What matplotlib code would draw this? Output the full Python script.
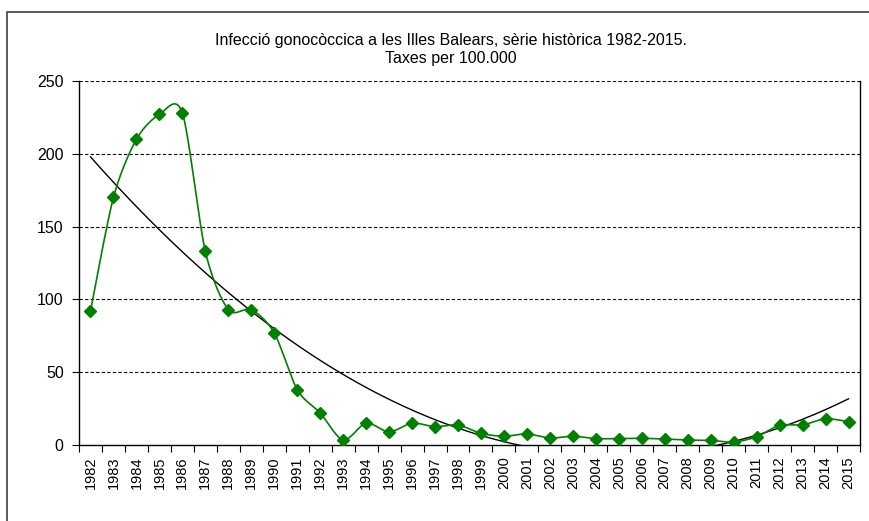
import numpy as np
import matplotlib
matplotlib.use("Agg")
import matplotlib.pyplot as plt
from matplotlib.patches import Rectangle

plt.rcParams['font.family'] = ['Liberation Sans', 'DejaVu Sans']

# Dades: taxes per 100.000 habitants
anys = list(range(1982, 2016))
taxes = [92, 170, 210, 227, 228, 133, 93, 93, 77, 38, 22, 3.4, 15, 9, 15, 12.6,
         13.7, 8, 6, 7.6, 4.8, 6, 4.4, 4.4, 4.6, 4.1, 3.4, 3.2, 2, 5.7, 13.5,
         13.8, 18, 16]
y_ticks = [0, 50, 100, 150, 200, 250]
titol = "Infecció gonocòccica a les Illes Balears, sèrie històrica 1982-2015.\nTaxes per 100.000"

x = np.arange(len(anys))
y = np.array(taxes, dtype=float)


# corba suavitzada tipus Excel (Bezier amb punts de control)
def suavitza(x, y, n=30, k=1 / 7):
    px = np.concatenate([[x[0]], x, [x[-1]]])
    py = np.concatenate([[y[0]], y, [y[-1]]])
    xs, ys = [], []
    t = np.linspace(0, 1, n)
    for i in range(1, len(px) - 2):
        p0 = np.array([px[i], py[i]])
        p3 = np.array([px[i + 1], py[i + 1]])
        c1 = p0 + (np.array([px[i + 1], py[i + 1]]) - np.array([px[i - 1], py[i - 1]])) * k
        c2 = p3 - (np.array([px[i + 2], py[i + 2]]) - p0) * k
        b = ((1 - t) ** 3)[:, None] * p0 + (3 * (1 - t) ** 2 * t)[:, None] * c1 \
            + (3 * (1 - t) * t ** 2)[:, None] * c2 + (t ** 3)[:, None] * p3
        xs.extend(b[:, 0])
        ys.extend(b[:, 1])
    return np.array(xs), np.array(ys)


sx, sy = suavitza(x, y)

# línia de tendència polinòmica (grau 2)
coef = np.polyfit(x, y, 2)
tx = np.linspace(0, len(anys) - 1, 400)
ty = np.polyval(coef, tx)

fig = plt.figure(figsize=(8.7, 5.21), dpi=100)
fig.patches.append(Rectangle((7 / 870, -0.1), 1.2, 1 - 12 / 521 + 0.1,
                             transform=fig.transFigure, fill=False,
                             edgecolor='#404040', linewidth=1.2))

ax = fig.add_axes([79 / 870, 1 - 445 / 521, (860 - 79) / 870, (445 - 81) / 521])

for v in y_ticks[1:]:
    ax.axhline(v, color='black', linestyle=(0, (3, 2)), linewidth=0.8, zorder=1)

ax.plot(tx, ty, color='black', linewidth=1.0, zorder=2)
ax.plot(sx, sy, color='#008000', linewidth=1.2, zorder=3)
ax.plot(x, y, linestyle='none', marker='D', markersize=6.5,
        color='#008000', zorder=4)

ax.set_xlim(-0.5, len(anys) - 0.5)
ax.set_ylim(0, 250)
ax.set_yticks(y_ticks)
ax.set_yticklabels([str(v) for v in y_ticks], fontsize=11.5)
ax.set_xticks(x)
ax.set_xticklabels([str(a) for a in anys], rotation=90, fontsize=10.5)
ax.tick_params(axis='x', length=0, pad=8)
ax.set_xticks(np.arange(-0.5, len(anys)), minor=True)
ax.tick_params(axis='x', which='minor', length=5, direction='out', width=0.8)
ax.tick_params(axis='y', length=5, direction='out', width=0.8, pad=6)

ax.spines['top'].set_visible(False)
for s in ['left', 'bottom', 'right']:
    ax.spines[s].set_linewidth(1.0)

fig.text(451 / 870, 1 - 50 / 521, titol, ha='center', va='center',
         fontsize=11.5, linespacing=1.25)

fig.savefig('out.png', dpi=100)
